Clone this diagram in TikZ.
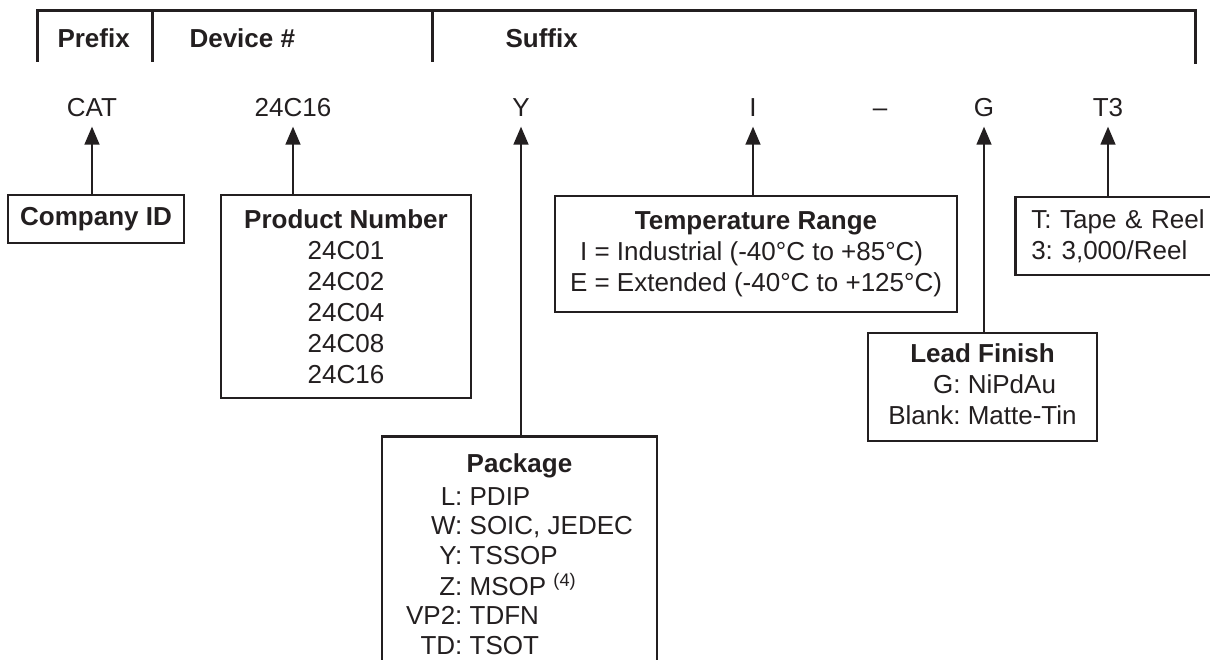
\documentclass[tikz,border=0pt]{standalone}
\usepackage{fontspec}
\setmainfont{Liberation Sans}
\usetikzlibrary{arrows.meta}
\definecolor{ink}{HTML}{231F20}
\frenchspacing
\begin{document}
\begin{tikzpicture}[x=1pt, y=-1pt,
        font=\fontsize{26}{31}\selectfont, text=ink,
        box/.style={draw=ink, line width=2.5pt, inner sep=0pt},
        code/.style={text height=19pt, text depth=0pt, inner sep=0pt, inner ysep=10pt},
        ptr/.style={draw=ink, line width=1.5pt, -{Triangle[length=18pt, width=15pt]}}]
    \useasboundingbox (0,0) rectangle (1210,660);
    \clip (0,0) rectangle (1210,660);
    \fill[white] (0,0) rectangle (1210,660);
    \draw[ink, line width=3pt] (37,62) -- (37,11) -- (1195,11) -- (1195,64);
    \draw[ink, line width=3pt] (152,11) -- (152,62) (432,11) -- (432,62);
    \node[anchor=west, font=\fontsize{26}{31}\selectfont\bfseries] (prefix) at (54,38) {Prefix};
    \node[anchor=west, font=\fontsize{26}{31}\selectfont\bfseries] (device) at (186,38) {Device \#};
    \node[anchor=west, font=\fontsize{26}{31}\selectfont\bfseries] (suffix) at (502,38) {Suffix};
    \node[code] (cat) at (92,107) {CAT};
    \node[code] (num) at (293,107) {24C16};
    \node[code] (pkg) at (521,107) {Y};
    \node[code] (temp) at (753,107) {I};
    \node[code] (dash) at (880,107) {--};
    \node[code] (lead) at (984,107) {G};
    \node[code] (reel) at (1108,107) {T3};
    \node[box, minimum width=176pt, minimum height=48pt] (cid) at (96,219)
        {\textbf{Company ID}};
    \node[box, minimum width=250pt, minimum height=203pt, align=center] (prod) at (346,296.5)
        {\textbf{Product Number}\\24C01\\24C02\\24C04\\24C08\\24C16};
    \node[box, minimum width=402pt, minimum height=116pt] (range) at (756,254)
        {\begin{tabular}{@{}r@{ = }l@{}}
            \multicolumn{2}{c}{\textbf{Temperature Range}}\\
            I & Industrial (-40°C to +85°C)\\
            E & Extended (-40°C to +125°C)
        \end{tabular}};
    \node[box, anchor=north west, minimum height=78pt, inner xsep=16pt,
        text width=190pt, align=left] (tape) at (1014,196)
        {T: Tape \& Reel\\3: 3,000/Reel};
    \node[box, minimum width=229pt, minimum height=108pt] (finish) at (982.5,387)
        {\begin{tabular}{@{}r@{ }l@{}}
            \multicolumn{2}{c}{\textbf{Lead Finish}}\\
            G: & NiPdAu\\
            Blank: & Matte-Tin
        \end{tabular}};
    \node[box, anchor=north, minimum width=275pt, inner ysep=16pt,
        font=\fontsize{26}{29.5}\selectfont] (package) at (519.5,435)
        {\begin{tabular}{@{}r@{ }l@{}}
            \multicolumn{2}{c}{\textbf{Package}}\\[3pt]
            L: & PDIP\\
            W: & SOIC, JEDEC\\
            Y: & TSSOP\\
            Z: & MSOP \textsuperscript{(4)}\\
            VP2: & TDFN\\
            TD: & TSOT
        \end{tabular}};
    \draw[ptr] (cid.north -| cat.south) -- (cat.south);
    \draw[ptr] (prod.north -| num.south) -- (num.south);
    \draw[ptr] (package.north -| pkg.south) -- (pkg.south);
    \draw[ptr] (range.north -| temp.south) -- (temp.south);
    \draw[ptr] (finish.north -| lead.south) -- (lead.south);
    \draw[ptr] (tape.north -| reel.south) -- (reel.south);
\end{tikzpicture}
\end{document}
